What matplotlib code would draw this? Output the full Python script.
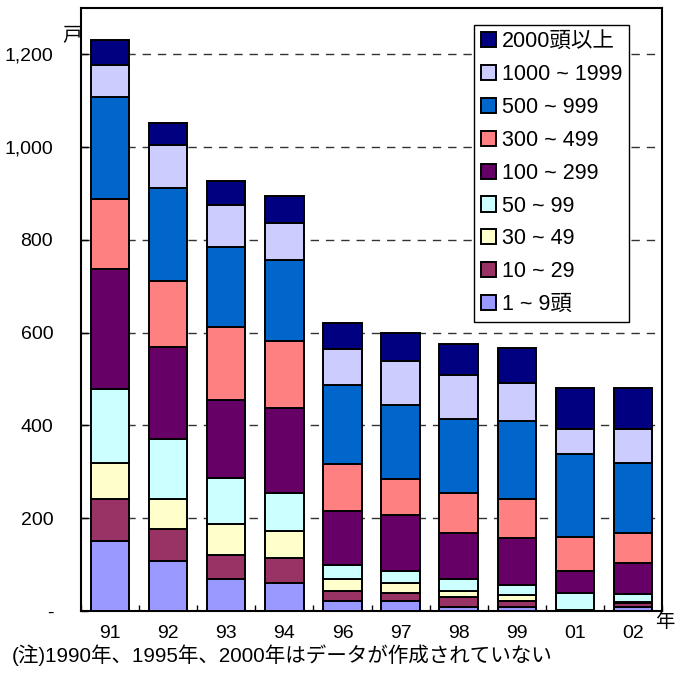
import numpy as np
import matplotlib
matplotlib.use('Agg')
import matplotlib.pyplot as plt
from matplotlib.ticker import FixedLocator

plt.rcParams['font.family'] = ['Liberation Sans', 'Noto Sans CJK JP']

years = ["91", "92", "93", "94", "96", "97", "98", "99", "01", "02"]

# households by herd size (bottom to top)
s1_9 = [151, 108, 70, 61, 22, 22, 9, 9, 1, 9]
s10_29 = [90, 69, 51, 53, 21, 17, 22, 13, 1, 8]
s30_49 = [77, 64, 66, 59, 26, 22, 13, 12, 1, 2]
s50_99 = [160, 130, 99, 82, 30, 25, 25, 22, 35, 17]
s100_299 = [260, 198, 169, 182, 117, 121, 100, 101, 49, 67]
s300_499 = [151, 143, 157, 145, 100, 77, 86, 84, 73, 66]
s500_999 = [219, 199, 173, 174, 172, 160, 159, 169, 178, 151]
s1000_1999 = [70, 93, 91, 81, 76, 95, 94, 82, 54, 72]
s2000 = [52, 49, 51, 57, 57, 61, 67, 74, 88, 88]

series = [s1_9, s10_29, s30_49, s50_99, s100_299, s300_499, s500_999, s1000_1999, s2000]
labels = ["1 ~ 9頭", "10 ~ 29", "30 ~ 49", "50 ~ 99", "100 ~ 299",
          "300 ~ 499", "500 ~ 999", "1000 ~ 1999", "2000頭以上"]
colors = ['#9999FF', '#993366', '#FFFFCC', '#CCFFFF', '#660066',
          '#FF8080', '#0066CC', '#CCCCFF', '#000080']

yticks = [0, 200, 400, 600, 800, 1000, 1200]
ytick_labels = ["-", "200", "400", "600", "800", "1,000", "1,200"]

fig = plt.figure(figsize=(6.76, 6.82), dpi=100)
ax = fig.add_axes([81/676, 71/682, 581/676, 603/682])

x = np.arange(len(years))
bottom = np.zeros(len(years))
handles = []
for vals, lab, col in zip(series, labels, colors):
    b = ax.bar(x, vals, width=0.66, bottom=bottom, color=col, edgecolor='black',
               linewidth=1.4, label=lab, zorder=3)
    handles.append(b)
    bottom += np.array(vals)

ax.set_xlim(-0.5, len(years) - 0.5)
ax.set_ylim(0, 1300)
ax.set_yticks(yticks)
ax.set_yticklabels(ytick_labels, fontsize=14)
for t in yticks[1:]:
    ax.axhline(t, color='#333333', lw=1.0, ls=(0, (6, 5)), zorder=1)

ax.set_xticks(x)
ax.set_xticklabels(years, fontsize=14)
ax.tick_params(axis='x', which='major', length=0, pad=10)
ax.xaxis.set_minor_locator(FixedLocator(np.arange(-0.5, len(years), 1.0)))
ax.tick_params(axis='x', which='minor', direction='in', length=4, width=1)
ax.tick_params(axis='y', direction='in', length=5, width=1, pad=20)
for sp in ax.spines.values():
    sp.set_linewidth(1.5)

leg = ax.legend(handles[::-1], labels[::-1], loc='upper right',
                bbox_to_anchor=(0.943, 0.972), fontsize=15.5, frameon=True,
                fancybox=False, edgecolor='black', framealpha=1,
                handlelength=0.7, handleheight=0.7, handletextpad=0.3,
                labelspacing=0.55, borderpad=0.3, borderaxespad=0)
leg.get_frame().set_linewidth(1.0)

fig.text(62/676, 1 - 37/682, "戸", fontsize=14, ha='left', va='center')
fig.text(675/676, 1 - 622/682, "年", fontsize=14, ha='right', va='center')
fig.text(12/676, 1 - 655/682, "(注)1990年、1995年、2000年はデータが作成されていない",
         fontsize=14.8, ha='left', va='center')

fig.savefig("out.png", dpi=100)
